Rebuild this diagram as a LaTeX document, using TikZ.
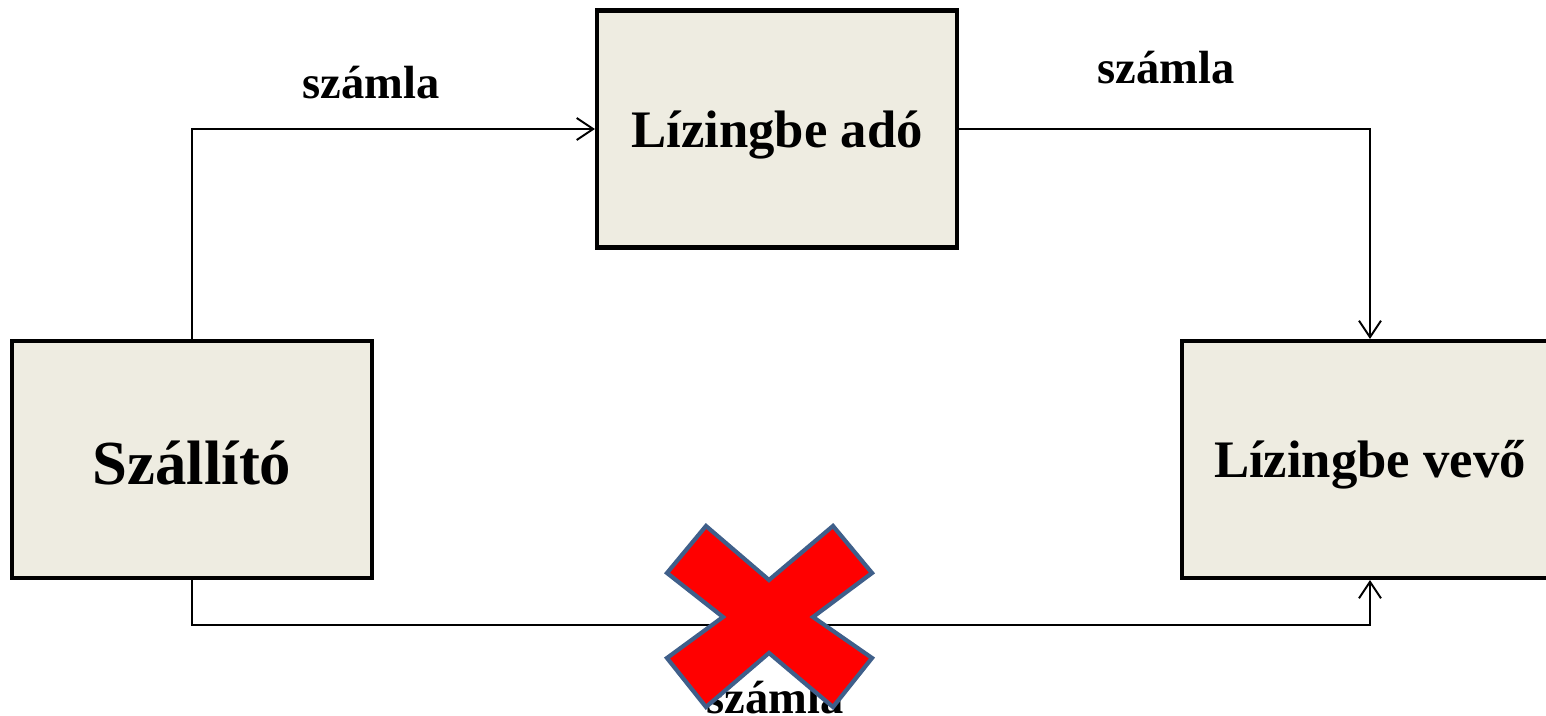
\documentclass[tikz,border=0pt]{standalone}
\usepackage{fontspec}
\setmainfont{Liberation Serif}
\usetikzlibrary{arrows.meta}
\definecolor{boxfill}{HTML}{EEECE1}
\definecolor{xline}{HTML}{3F5F8A}
\newcommand{\basedrop}[2]{\raisebox{-#1}[0pt][0pt]{#2}}
\tikzset{
  entity/.style={draw=black, line width=2.4pt, fill=boxfill, minimum width=7.2cm, minimum height=4.74cm, inner sep=0pt, font=\bfseries\fontsize{30}{36}\selectfont},
  flow/.style={line width=0.9pt, -{Straight Barb[length=0.33cm, width=0.44cm, line width=1.1pt]}},
  lbl/.style={font=\bfseries\fontsize{26.5}{32}\selectfont, inner sep=0pt}
}
\begin{document}
\begin{tikzpicture}[x=0.02cm, y=-0.02cm]
\useasboundingbox (0,0) rectangle (1546,716);
\begin{scope}
\clip (0,0) rectangle (1546,716);
\node[entity, font=\bfseries\fontsize{35.7}{42}\selectfont] (sz) at (192,459.5) {\basedrop{0.51cm}{Szállító}};
\node[entity] (ado) at (777,129) {\basedrop{0.38cm}{Lízingbe adó}};
\node[entity, minimum width=7.52cm] (vevo) at (1370,459.5) {\basedrop{0.37cm}{Lízingbe vevő}};
\end{scope}
\coordinate (b1) at (192,625);
\draw[flow] (sz.north) |- (ado.west);
\draw[flow] (ado.east) -| (vevo.north);
\draw[flow] (sz.south) -- (b1) -| (vevo.south);
\node[lbl] (l1) at (371,83) {számla};
\node[lbl] (l2) at (1166,68) {számla};
\node[lbl] (l3) at (775,698) {számla};
\filldraw[fill=red, draw=xline, line width=2.4pt, line join=miter]
  (667,573) -- (706,526) -- (769,580) -- (833,526) -- (872,573) -- (813,617)
  -- (872,658) -- (833,707) -- (769,653) -- (706,707) -- (667,658) -- (723,617) -- cycle;
\end{tikzpicture}
\end{document}
